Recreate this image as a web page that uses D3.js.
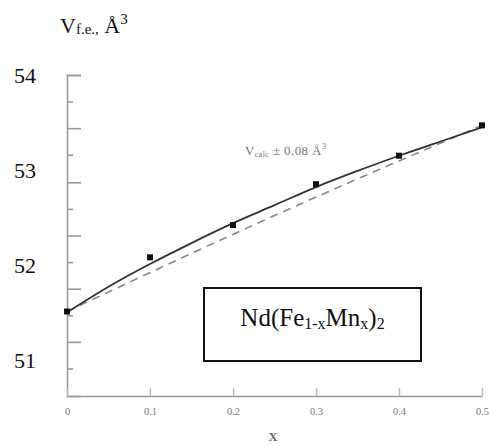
<!DOCTYPE html>
<html><head><meta charset="utf-8">
<script src="https://cdn.jsdelivr.net/npm/d3@7"></script>
<style>
body{margin:0;background:#fff;}
svg text{font-family:"Liberation Serif","Times New Roman","DejaVu Serif","Noto Serif",serif !important;}
</style></head>
<body><svg id="c" width="489" height="446"></svg>
<script>
// ---- data ----
const xTicks = [0, 0.1, 0.2, 0.3, 0.4, 0.5];
const xTickLabels = ["0", "0.1", "0.2", "0.3", "0.4", "0.5"];
const yLabels = [54, 53, 52, 51];
const yTicksMajor = [54, 53.44, 52.87, 52.31, 51.75, 51.19];
const yTicksMinor = [53.72, 53.16, 52.59, 52.03, 51.47, 50.91];
const pointX = [0, 0.1, 0.2, 0.3, 0.4, 0.5];
const pointV = [51.51, 52.08, 52.42, 52.85, 53.15, 53.47];
const fitX = [0, 0.05, 0.1, 0.15, 0.2, 0.25, 0.3, 0.35, 0.4, 0.45, 0.5];
const fitV = [51.50, 51.77, 52.01, 52.23, 52.44, 52.63, 52.82, 52.99, 53.15, 53.30, 53.45];
const calcX = [0, 0.25, 0.5];
const calcV = [51.51, 52.52, 53.47];

const SERIF = "Liberation Serif, Times New Roman, DejaVu Serif, serif";
const svg = d3.select("#c");
const x = d3.scaleLinear().domain([0, 0.5]).range([67, 482]);
const y = d3.scaleLinear().domain([50.62, 54]).range([396, 75]);

const axisCol = "#999";
const gy1 = svg.append("g").attr("transform", "translate(67,0)")
  .call(d3.axisLeft(y).tickValues(yTicksMajor).tickSize(-14).tickFormat(""));
const gy2 = svg.append("g").attr("transform", "translate(67,0)")
  .call(d3.axisLeft(y).tickValues(yTicksMinor).tickSize(-6).tickFormat(""));
[gy1, gy2].forEach(g => {
  g.select(".domain").attr("stroke", axisCol).attr("stroke-width", 1.6);
  g.selectAll(".tick line").attr("stroke", axisCol).attr("stroke-width", 1.6);
});
gy2.select(".domain").remove();

const gx = svg.append("g").attr("transform", "translate(0,396)")
  .call(d3.axisBottom(x).tickValues(xTicks).tickSizeInner(-8).tickSizeOuter(0).tickPadding(12)
    .tickFormat((d, i) => xTickLabels[i]));
gx.attr("font-family", SERIF);
gx.select(".domain").attr("stroke", axisCol).attr("stroke-width", 1.6);
gx.selectAll(".tick line").attr("stroke", "#bbb").attr("stroke-width", 1.4);
gx.selectAll(".tick text").attr("fill", "#777").attr("font-size", 10.5);

svg.append("g").selectAll("text").data(yLabels).join("text")
  .attr("x", 25).attr("y", d => y(d)).attr("dy", "0.35em")
  .attr("text-anchor", "middle").attr("font-size", 22).attr("fill", "#111")
  .attr("font-family", SERIF).text(d => d);

svg.append("path")
  .datum(calcX.map((v, i) => [v, calcV[i]]))
  .attr("d", d3.line().x(d => x(d[0])).y(d => y(d[1])).curve(d3.curveNatural))
  .attr("fill", "none").attr("stroke", "#888").attr("stroke-width", 1.6)
  .attr("stroke-dasharray", "8,6");

svg.append("path")
  .datum(fitX.map((v, i) => [v, fitV[i]]))
  .attr("d", d3.line().x(d => x(d[0])).y(d => y(d[1])).curve(d3.curveNatural))
  .attr("fill", "none").attr("stroke", "#333").attr("stroke-width", 1.8);

svg.append("g").selectAll("rect").data(pointX.map((v, i) => [v, pointV[i]])).join("rect")
  .attr("x", d => x(d[0]) - 3).attr("y", d => y(d[1]) - 3)
  .attr("width", 6).attr("height", 6).attr("fill", "#111");

const t = svg.append("text").attr("x", 60).attr("y", 33).attr("fill", "#111").attr("font-family", SERIF);
t.append("tspan").attr("font-size", 22).text("V");
t.append("tspan").attr("font-size", 15).attr("dy", 1).text("f.e.,");
t.append("tspan").attr("font-size", 22).attr("dy", -1).text(" Å");
t.append("tspan").attr("font-size", 15).attr("dy", -9).text("3");

svg.append("text").attr("x", 273).attr("y", 441).attr("text-anchor", "middle")
  .attr("font-family", SERIF)
  .attr("font-size", 12).attr("font-weight", "bold").attr("fill", "#666").text("X");

const a = svg.append("text").attr("x", 245).attr("y", 155).attr("fill", "#777")
  .attr("font-family", SERIF).attr("letter-spacing", 0.4);
a.append("tspan").attr("font-size", 13).text("V");
a.append("tspan").attr("font-size", 8).attr("dy", 2).text("calc");
a.append("tspan").attr("font-size", 13).attr("dy", -2).text(" ± 0.08 Å");
a.append("tspan").attr("font-size", 8).attr("dy", -6).text("3");

svg.append("rect").attr("x", 204).attr("y", 288).attr("width", 217).attr("height", 73)
  .attr("fill", "#fff").attr("stroke", "#111").attr("stroke-width", 2);
const f = svg.append("text").attr("x", 312.5).attr("y", 326).attr("text-anchor", "middle")
  .attr("fill", "#111").attr("font-family", SERIF);
f.append("tspan").attr("font-size", 25).text("Nd(Fe");
f.append("tspan").attr("font-size", 16).attr("dy", 3).text("1-x");
f.append("tspan").attr("font-size", 25).attr("dy", -3).text("Mn");
f.append("tspan").attr("font-size", 16).attr("dy", 3).text("x");
f.append("tspan").attr("font-size", 25).attr("dy", -3).text(")");
f.append("tspan").attr("font-size", 16).attr("dy", 3).text("2");
</script></body></html>
